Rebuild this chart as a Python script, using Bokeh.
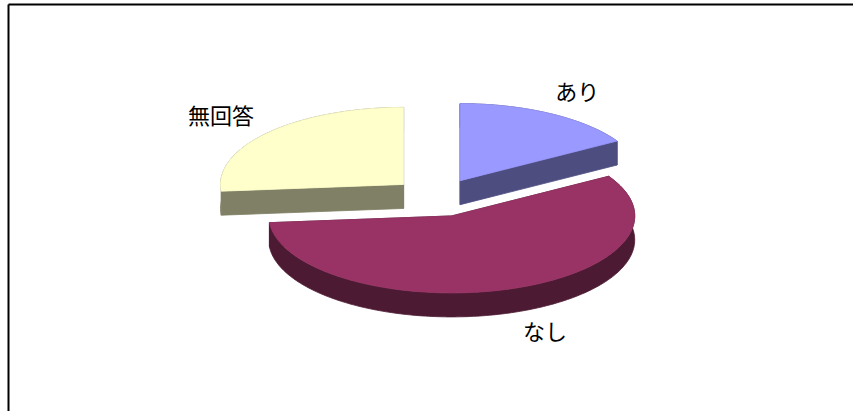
import numpy as np
from bokeh.plotting import figure
from bokeh.models import Range1d, ColumnDataSource
from bokeh.core.properties import value
from bokeh.embed import file_html
from bokeh.resources import INLINE

# ---- data ----
categories = ["あり", "なし", "無回答"]
shares = [16.4, 57.2, 26.4]
top_colors = ["#9999FF", "#993366", "#FFFFCC"]
side_colors = ["#4D4D80", "#4D1A33", "#808066"]

# ---- geometry (pixel-like data space, y downwards) ----
W, H = 853, 411
CX, CY = 437.0, 197.0     # pie centre
RX, RY = 183.0, 77.0      # ellipse radii of the tilted pie
DEPTH = 24.0              # thickness of the pie
EXPLODE = 46.0            # explosion distance (x units)
FONT_PX = 22

p = figure(width=W, height=H, x_range=Range1d(0, W), y_range=Range1d(H, 0),
           output_backend="svg", toolbar_location=None, min_border=0,
           x_axis_location=None, y_axis_location=None)
p.grid.visible = False
p.outline_line_color = None
p.background_fill_color = "white"
p.border_fill_color = "white"

# chart-area frame (left and top edges visible)
p.segment(x0=[8, 8], y0=[4, 4], x1=[8, 870], y1=[430, 4],
          line_color="black", line_width=2)

fr = np.array(shares, dtype=float)
fr = fr / fr.sum()
ends = np.cumsum(fr) * 2 * np.pi
starts = ends - fr * 2 * np.pi
mids = (starts + ends) / 2

xs, ys, fills = [], [], []
order = np.argsort(-np.cos(mids))   # back slices first
for i in order:
    a0, a1, m = starts[i], ends[i], mids[i]
    tx = CX + EXPLODE * np.sin(m)
    ty = CY - EXPLODE * np.cos(m) * RY / RX
    n = max(12, int(np.degrees(a1 - a0)))
    t = np.linspace(a0, a1, n)
    ax = tx + RX * np.sin(t)
    ay = ty - RY * np.cos(t)
    # side: outer band
    xs.append(list(ax) + list(ax[::-1]))
    ys.append(list(ay) + list((ay + DEPTH)[::-1]))
    fills.append(side_colors[i])
    # side: radial faces
    for k in (0, -1):
        xs.append([tx, ax[k], ax[k], tx])
        ys.append([ty, ay[k], ay[k] + DEPTH, ty + DEPTH])
        fills.append(side_colors[i])
    # top face
    xs.append([tx] + list(ax))
    ys.append([ty] + list(ay))
    fills.append(top_colors[i])

src = ColumnDataSource(dict(xs=xs, ys=ys, fill=fills))
p.patches("xs", "ys", source=src, fill_color="fill", line_color="fill",
          line_width=0.8)

# labels placed outside each slice along its mid angle
lab_x, lab_y = [], []
for i, name in enumerate(categories):
    m = mids[i]
    tx = CX + EXPLODE * np.sin(m)
    ty = CY - EXPLODE * np.cos(m) * RY / RX
    front = np.cos(m) < 0
    half_w = 0.5 * FONT_PX * (len(name) - 0.2)
    kx = 1.3 if front else 0.99 + 0.045 * len(name)
    lx = tx + RX * kx * np.sin(m) + np.sign(np.sin(m)) * half_w
    ly = ty - RY * 1.36 * np.cos(m) + (DEPTH * 0.6 if front else 0)
    lab_x.append(lx)
    lab_y.append(ly)

p.text(x=lab_x, y=lab_y, text=categories, text_font=value("Noto Sans CJK JP"),
       text_font_size=f"{FONT_PX}px", text_align="center", text_baseline="middle",
       text_color="black")

open("out.html", "w").write(file_html(p, INLINE))
